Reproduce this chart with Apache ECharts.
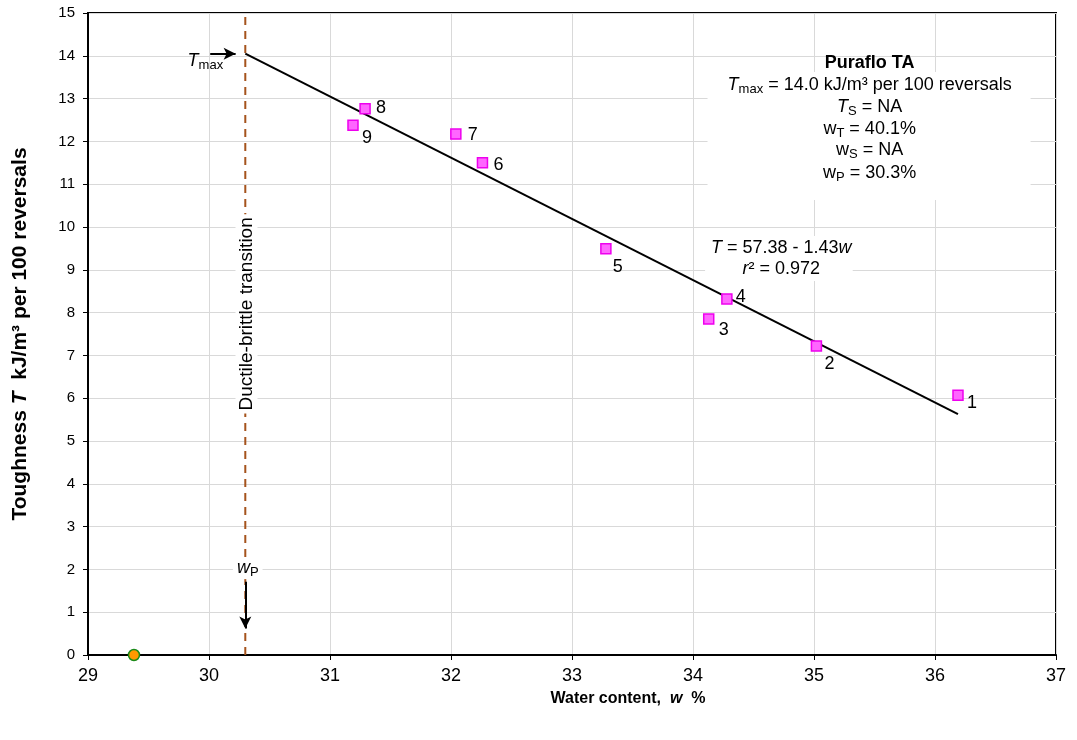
<!DOCTYPE html>
<html><head><meta charset="utf-8">
<script src="https://cdn.jsdelivr.net/npm/echarts@6/dist/echarts.min.js"></script>
<style>html,body{margin:0;padding:0;background:#fff}#c{width:1077px;height:740px}</style>
</head><body><div id="c"></div>
<script>
// ---- data ----
const sampleLabels = ['1', '2', '3', '4', '5', '6', '7', '8', '9'];
const waterContent = [36.19, 35.02, 34.13, 34.28, 33.28, 32.26, 32.04, 31.29, 31.19];
const toughness = [6.07, 7.22, 7.85, 8.32, 9.49, 11.50, 12.17, 12.76, 12.38];
const trendX = [30.3, 36.19];
const trendY = [14.05, 5.63];
const plasticLimitW = 30.3;
const transitionLineY = [0, 15];
const extraPointX = [29.38];
const extraPointY = [0];
const xTicks = [29, 30, 31, 32, 33, 34, 35, 36, 37];
const yTicks = [0, 1, 2, 3, 4, 5, 6, 7, 8, 9, 10, 11, 12, 13, 14, 15];

// ---- styling ----
const FONT = '"Liberation Sans", Arial, Helvetica, sans-serif';
const labelOffsets = [[14, 8], [13, 18], [15, 11], [14, -2], [12, 18], [16, 2], [17, 1], [16, -1], [14, 13]];

const chart = echarts.init(document.getElementById('c'), null, { renderer: 'canvas' });

const richBase = {
  n: { fontFamily: FONT, fontSize: 18, color: '#000', lineHeight: 22 },
  i: { fontFamily: FONT, fontSize: 18, color: '#000', fontStyle: 'italic', lineHeight: 22 },
  sub: { fontFamily: FONT, fontSize: 13, color: '#000', lineHeight: 13, verticalAlign: 'bottom' },
  b: { fontFamily: FONT, fontSize: 18, color: '#000', fontWeight: 'bold', lineHeight: 22 },
  d: { fontFamily: FONT, fontSize: 19, color: '#000', lineHeight: 22 }
};

const option = {
  animation: false,
  backgroundColor: '#fff',
  grid: { left: 88, right: 21, top: 13, bottom: 85, outerBoundsMode: 'none', containLabel: false,
    show: true, borderColor: '#000', borderWidth: 2, backgroundColor: 'transparent' },
  xAxis: {
    type: 'value', min: xTicks[0], max: xTicks[xTicks.length - 1], interval: 1,
    axisLine: { onZero: false, lineStyle: { color: '#000', width: 2 } },
    axisTick: { show: true, length: 5, lineStyle: { color: '#000', width: 1 } },
    axisLabel: { fontFamily: FONT, fontSize: 18, color: '#000', margin: 12 },
    splitLine: { show: true, lineStyle: { color: '#d9d9d9', width: 1 } },
    name: 'Water content,  {bi|w}  %', nameLocation: 'middle', nameGap: 36,
    nameTextStyle: { fontFamily: FONT, fontSize: 16, fontWeight: 'bold', color: '#000', padding: [0, 0, 0, 112],
      rich: { bi: { fontFamily: FONT, fontSize: 16, fontWeight: 'bold', fontStyle: 'italic', color: '#000' } } }
  },
  yAxis: {
    type: 'value', min: yTicks[0], max: yTicks[yTicks.length - 1], interval: 1,
    axisLine: { onZero: false, lineStyle: { color: '#000', width: 2 } },
    axisTick: { show: true, length: 5, lineStyle: { color: '#000', width: 1 } },
    axisLabel: { fontFamily: FONT, fontSize: 15, color: '#000', margin: 13 },
    splitLine: { show: true, lineStyle: { color: '#d9d9d9', width: 1 } },
    name: 'Toughness {bi|T}  kJ/m³ per 100 reversals', nameLocation: 'middle', nameGap: 57,
    nameTextStyle: { fontFamily: FONT, fontSize: 21, fontWeight: 'bold', color: '#000',
      rich: { bi: { fontFamily: FONT, fontSize: 21, fontWeight: 'bold', fontStyle: 'italic', color: '#000' } } }
  },
  series: [
    {
      type: 'line', name: 'transition', silent: true, symbol: 'none', z: 2,
      data: transitionLineY.map(y => [plasticLimitW, y]),
      lineStyle: { color: '#a5531c', width: 2, type: [8, 6] }
    },
    {
      type: 'line', name: 'fit', silent: true, symbol: 'none', z: 3,
      data: trendX.map((x, i) => [x, trendY[i]]),
      lineStyle: { color: '#000', width: 2 },
      markLine: {
        silent: true, symbol: ['none', 'arrow'], symbolSize: [9, 12],
        lineStyle: { color: '#000', width: 2, type: 'solid' },
        label: { show: false },
        data: [
          [{ coord: [30.01, trendY[0]] }, { coord: [30.22, trendY[0]] }],
          [{ coord: [plasticLimitW, 1.71] }, { coord: [plasticLimitW, 0.62] }]
        ]
      }
    },
    {
      type: 'scatter', name: 'samples', symbol: 'rect', symbolSize: 10, z: 5,
      itemStyle: { color: '#ff66ff', borderColor: '#ee00ee', borderWidth: 1.5, opacity: 1 },
      label: { show: true, color: '#000', textBorderWidth: 0, fontFamily: FONT, fontSize: 18, opacity: 1 },
      data: waterContent.map((x, i) => ({
        value: [x, toughness[i]],
        label: { show: true, position: 'inside', offset: labelOffsets[i], formatter: sampleLabels[i],
          fontFamily: FONT, fontSize: 18, color: '#000', textBorderWidth: 0, opacity: 1 }
      }))
    },
    {
      type: 'scatter', name: 'extra', symbol: 'circle', symbolSize: 11, z: 6,
      itemStyle: { color: '#ff9900', borderColor: '#1a8a1a', borderWidth: 1.5, opacity: 1 },
      data: extraPointX.map((x, i) => [x, extraPointY[i]])
    }
  ]
};
chart.setOption(option);

const P = (x, y) => chart.convertToPixel({ gridIndex: 0 }, [x, y]);
function txt(x, y, text, extra) {
  const p = P(x, y);
  return Object.assign({
    type: 'text', x: p[0], y: p[1], z: 100, silent: true,
    style: Object.assign({ text: text, rich: richBase, fontFamily: FONT, fontSize: 18, fill: '#000',
      align: 'center', verticalAlign: 'middle', textAlign: 'center', textVerticalAlign: 'middle' }, (extra && extra.style) || {})
  }, extra ? { rotation: extra.rotation || 0 } : {});
}
function box(x1, y1, x2, y2) {
  const a = P(x1, y1), b = P(x2, y2);
  return { type: 'rect', z: 99, silent: true, shape: { x: a[0], y: a[1], width: b[0] - a[0], height: b[1] - a[1] },
    style: { fill: '#fff' } };
}

const graphics = [
  box(34.12, 13.62, 36.79, 10.63),
  txt(35.46, 13.83, '{b|Puraflo TA}'),
  txt(35.46, 13.32, '{i|T}{sub|max}{n| = 14.0 kJ/m³ per 100 reversals}'),
  txt(35.46, 12.80, '{i|T}{sub|S}{n| = NA}'),
  txt(35.46, 12.29, '{n|w}{sub|T}{n| = 40.1%}'),
  txt(35.46, 11.80, '{n|w}{sub|S}{n| = NA}'),
  txt(35.46, 11.26, '{n|w}{sub|P}{n| = 30.3%}'),
  box(34.10, 9.79, 35.32, 8.74),
  txt(34.73, 9.51, '{i|T}{n| = 57.38 - 1.43}{i|w}'),
  txt(34.73, 9.02, '{i|r}{n|² = 0.972}'),
  txt(30.31, 7.97, '{d|Ductile-brittle transition}', { rotation: Math.PI / 2, style: { backgroundColor: '#fff', padding: [0, 3, 0, 3] } }),
  txt(30.32, 2.03, '{i|w}{sub|P}', { style: { backgroundColor: '#fff', padding: [0, 4, 0, 4] } }),
  txt(29.97, 13.88, '{i|T}{sub|max}')
];
chart.setOption({ graphic: { elements: graphics } });
</script>
</body></html>
